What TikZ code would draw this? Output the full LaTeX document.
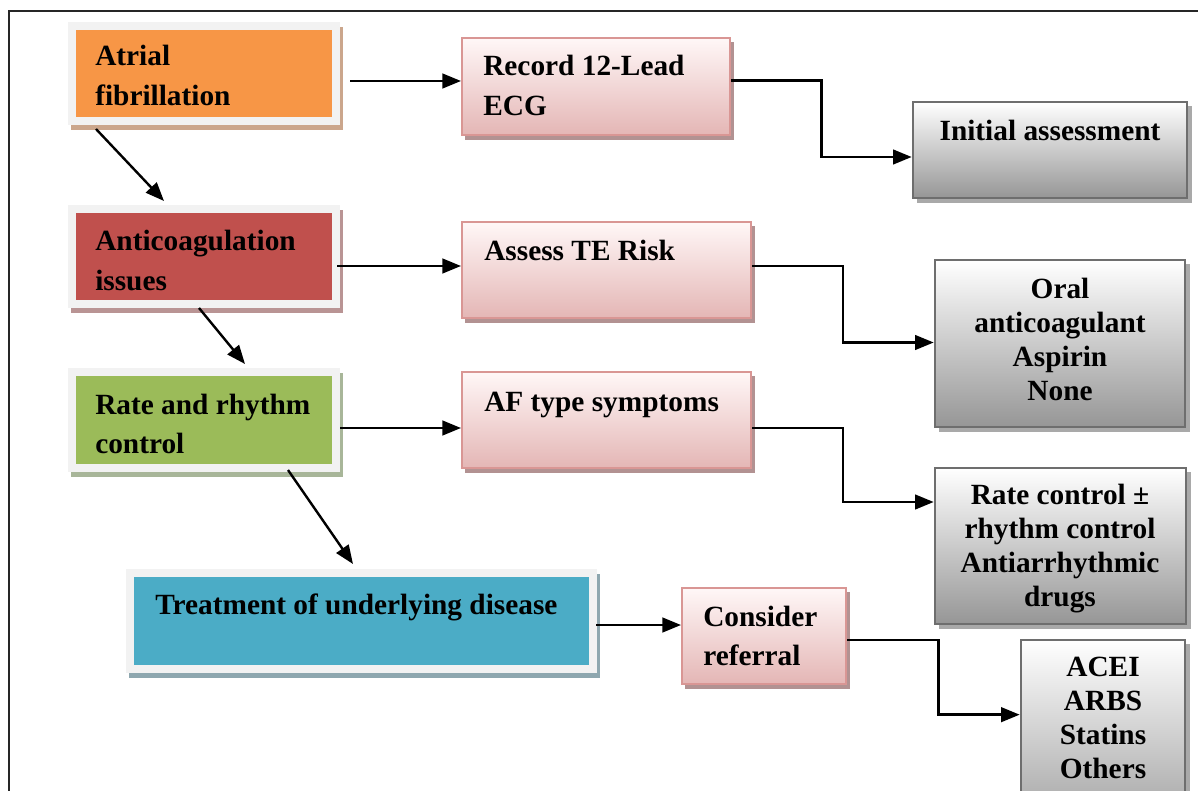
\documentclass[tikz,border=0pt]{standalone}
\usepackage{fontspec}
\setmainfont{Liberation Serif}
\usetikzlibrary{arrows.meta,fit,calc}
\definecolor{framegray}{HTML}{F2F2F2}
\definecolor{afc}{HTML}{F79646}
\definecolor{afsh}{HTML}{CBA68C}
\definecolor{acc}{HTML}{C0504D}
\definecolor{acsh}{HTML}{B99494}
\definecolor{rrc}{HTML}{9BBB59}
\definecolor{rrsh}{HTML}{A8B699}
\definecolor{trc}{HTML}{4BACC6}
\definecolor{trsh}{HTML}{8EA7AF}
\definecolor{pinktop}{HTML}{FFF7F7}
\definecolor{pinkbot}{HTML}{E4B6B5}
\definecolor{pinkborder}{HTML}{D99694}
\definecolor{pinksh}{HTML}{B29292}
\definecolor{graytop}{HTML}{FFFFFF}
\definecolor{graybot}{HTML}{969696}
\definecolor{grayborder}{HTML}{6E6E6E}
\definecolor{graysh}{HTML}{A9A9A9}
\newcommand\LBox[7]{%
  \fill[#7] (#2+3,#3+5) rectangle (#4+3,#5+5);
  \node[inner sep=0pt, fit={(#2+4,#3+4) (#4-4,#5-4)}, draw=framegray, line width=6pt, fill=#6] (#1) {};
}
\newcommand\PBox[5]{%
  \fill[pinksh] (#2+3,#3+4) rectangle (#4+4,#5+5);
  \node[inner sep=0pt, fit={(#2,#3) (#4,#5)}, draw=pinkborder, line width=1.5pt, top color=pinktop, bottom color=pinkbot] (#1) {};
}
\newcommand\GBox[5]{%
  \fill[graysh] (#2+4,#3+4) rectangle (#4+5,#5+5);
  \node[inner sep=0pt, fit={(#2,#3) (#4,#5)}, draw=grayborder, line width=2pt, top color=graytop, bottom color=graybot] (#1) {};
}
\newcommand\tl[1]{\begin{tabular}[t]{@{}l@{}}#1\end{tabular}}
\newcommand\tc[1]{\begin{tabular}[t]{@{}c@{}}#1\end{tabular}}
\tikzset{
  txt/.style={inner sep=0pt, anchor=base west, font=\fontsize{22}{29.5}\selectfont\bfseries},
  gtxt/.style={inner sep=0pt, anchor=base, font=\fontsize{22}{25.5}\selectfont\bfseries},
  conn/.style={line width=1.8pt, -{Triangle[length=14pt,width=11pt]}},
}
\begin{document}
\begin{tikzpicture}[x=0.75pt,y=-0.75pt]
\useasboundingbox (0,0) rectangle (1198,791);
\clip (0,0) rectangle (1198,791);
\fill[white] (0,0) rectangle (1198,791);
\draw[line width=1.6pt, black!85] (9,11) rectangle (1230,830);
% left boxes
\LBox{af}{68}{22}{340}{125}{afc}{afsh}
\LBox{ac}{68}{205}{340}{308}{acc}{acsh}
\LBox{rr}{68}{368}{340}{472}{rrc}{rrsh}
\LBox{tr}{126}{569}{597}{673}{trc}{trsh}
% pink boxes
\PBox{rec}{462}{38}{730}{135}
\PBox{te}{462}{222}{751}{318}
\PBox{aft}{462}{372}{751}{468}
\PBox{cr}{682}{588}{846}{684}
% gray boxes
\GBox{ini}{913}{102}{1187}{198}
\GBox{oral}{935}{260}{1185}{427}
\GBox{rc}{935}{468}{1186}{624}
\GBox{acei}{1021}{640}{1185}{850}
% texts
\node[txt] (t-af) at (95,66) {\tl{Atrial\\fibrillation}};
\node[txt] (t-ac) at (95,251) {\tl{Anticoagulation\\issues}};
\node[txt] (t-rr) at (95,414) {\tl{Rate and rhythm\\control}};
\node[txt] (t-tr) at (155,614) {Treatment of underlying disease};
\node[txt] (t-rec) at (483,76) {\tl{Record 12-Lead\\ECG}};
\node[txt] (t-te) at (484,261) {Assess TE Risk};
\node[txt] (t-aft) at (484,411) {AF type symptoms};
\node[txt] (t-cr) at (703,626) {\tl{Consider\\referral}};
\node[gtxt] (t-ini) at (1050,141) {Initial assessment};
\node[gtxt] (t-oral) at (1060,299) {\tc{Oral\\anticoagulant\\Aspirin\\None}};
\node[gtxt] (t-rc) at (1060,504) {\tc{Rate control ±\\rhythm control\\Antiarrhythmic\\drugs}};
\node[gtxt] (t-acei) at (1103,676) {\tc{ACEI\\ARBS\\Statins\\Others}};
% horizontal connectors
\coordinate (c1) at ($(af.east)+(10,7.5)$);
\draw[conn] (c1) -- (c1 -| rec.west);
\coordinate (c3) at ($(ac.east)+(-3,9.5)$);
\draw[conn] (c3) -- (c3 -| te.west);
\coordinate (c5) at ($(rr.east)+(0,8)$);
\draw[conn] (c5) -- (c5 -| aft.west);
\coordinate (c7) at ($(tr.east)+(-1,4)$);
\draw[conn] (c7) -- (c7 -| cr.west);
% elbow connectors
\coordinate (c2) at ($(rec.east)+(0,-6)$);
\coordinate (c2e) at ($(ini.west)+(0,7)$);
\draw[conn] (c2) -| ($(c2)!0.5!(c2e)$) |- (c2e);
\coordinate (c4) at ($(te.east)+(0,-4)$);
\coordinate (c4e) at ($(oral.west)+(0,-1)$);
\draw[conn] (c4) -| ($(c4)!0.5!(c4e)$) |- (c4e);
\coordinate (c6) at ($(aft.east)+(0,8)$);
\coordinate (c6e) at ($(rc.west)+(0,-44)$);
\draw[conn] (c6) -| ($(c6)!0.5!(c6e)$) |- (c6e);
\coordinate (c8) at ($(cr.east)+(0,4)$);
\coordinate (c8e) at ($(acei.north west)+(0,76)$);
\draw[conn] (c8) -| ($(c8)!0.53!(c8e)$) |- (c8e);
% diagonal connectors
\draw[conn] ($(af.south west)+(28,4)$) -- ($(ac.north west)+(96,-4)$);
\draw[conn] ($(ac.south west)+(131,0)$) -- ($(rr.north west)+(177,-4)$);
\draw[conn] ($(rr.south west)+(220,-2)$) -- ($(tr.north west)+(227,-5)$);
\end{tikzpicture}
\end{document}
